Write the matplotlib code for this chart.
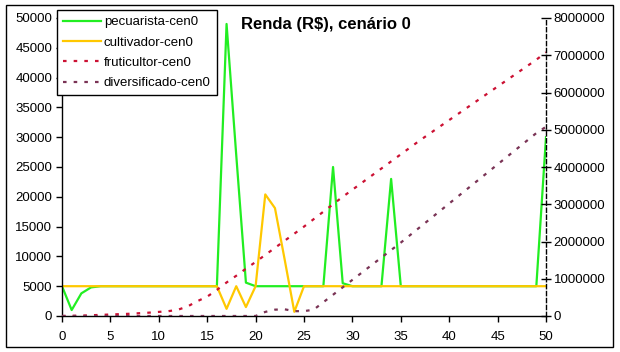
import matplotlib
matplotlib.use('Agg')
from matplotlib import pyplot as plt
from matplotlib.patches import Rectangle
import numpy as np

plt.rcParams['font.family'] = ['Liberation Sans', 'DejaVu Sans']

# anos 0..50
anos = list(range(51))

# eixo esquerdo (R$)
pecuarista = [5000, 1000, 3800, 4800, 5000, 5000, 5000, 5000, 5000, 5000,
              5000, 5000, 5000, 5000, 5000, 5000, 5000, 49000, 27000, 5600,
              5000, 5000, 5000, 5000, 5000, 5000, 5000, 5000, 25000, 5500,
              5000, 5000, 5000, 5000, 23000, 5000, 5000, 5000, 5000, 5000,
              5000, 5000, 5000, 5000, 5000, 5000, 5000, 5000, 5000, 5000,
              30000]
cultivador = [5000, 5000, 5000, 5000, 5000, 5000, 5000, 5000, 5000, 5000,
              5000, 5000, 5000, 5000, 5000, 5000, 5000, 1200, 5000, 1500,
              5000, 20400, 18100, 9500, 700, 5000, 5000, 5000, 5000, 5000,
              5000, 5000, 5000, 5000, 5000, 5000, 5000, 5000, 5000, 5000,
              5000, 5000, 5000, 5000, 5000, 5000, 5000, 5000, 5000, 5000,
              5000]

# eixo direito (R$)
fruticultor = [0, 5000, 10000, 20000, 30000, 40000, 50000, 60000, 75000, 90000,
               110000, 130000, 170000, 260000, 400000, 520000, 700000, 900000, 1080000, 1270000,
               1450000, 1640000, 1830000, 2020000, 2210000, 2400000, 2600000, 2800000, 3000000, 3200000,
               3390000, 3580000, 3770000, 3960000, 4150000, 4340000, 4530000, 4720000, 4900000, 5080000,
               5260000, 5440000, 5620000, 5800000, 5980000, 6160000, 6340000, 6520000, 6700000, 6880000,
               7080000]
diversificado = [0, 0, 0, 0, 0, 0, 0, 0, 0, 0,
                 0, 0, 0, 0, 0, 0, 0, 0, 0, 0,
                 0, 110000, 170000, 180000, 130000, 130000, 170000, 370000, 570000, 770000,
                 970000, 1170000, 1370000, 1570000, 1770000, 1970000, 2180000, 2390000, 2600000, 2810000,
                 3020000, 3230000, 3440000, 3650000, 3860000, 4070000, 4280000, 4490000, 4700000, 4910000,
                 5080000]

x_ticks = [0, 5, 10, 15, 20, 25, 30, 35, 40, 45, 50]
y1_ticks = [0, 5000, 10000, 15000, 20000, 25000, 30000, 35000, 40000, 45000, 50000]
y2_ticks = [0, 1000000, 2000000, 3000000, 4000000, 5000000, 6000000, 7000000, 8000000]

W, H = 620, 352
fig = plt.figure(figsize=(W / 100, H / 100), dpi=100)
ax = fig.add_axes([62 / W, 1 - 316 / H, (546 - 62) / W, (316 - 18) / H])
ax2 = ax.twinx()

fs = 9.5
l1, = ax.plot(anos, pecuarista, color='#22ee22', lw=1.6, label='pecuarista-cen0')
l2, = ax.plot(anos, cultivador, color='#ffc800', lw=1.6, label='cultivador-cen0')
l3, = ax2.plot(anos, fruticultor, color='#cc1133', lw=1.6, dashes=(1.6, 3.2),
               label='fruticultor-cen0')
l4, = ax2.plot(anos, diversificado, color='#7a3355', lw=1.6, dashes=(1.6, 3.2),
               label='diversificado-cen0')

ax.set_xlim(0, 50)
ax.set_ylim(0, 50000)
ax2.set_ylim(0, 8000000)

ax.set_xticks(x_ticks)
ax.set_xticklabels([str(v) for v in x_ticks])
ax.set_yticks(y1_ticks)
ax.set_yticklabels([str(v) for v in y1_ticks])
ax2.set_yticks(y2_ticks)
ax2.set_yticklabels([str(v) for v in y2_ticks])

for s in ['top', 'right']:
    ax.spines[s].set_visible(False)
for s in ['top', 'left', 'bottom']:
    ax2.spines[s].set_visible(False)
ax2.spines['right'].set_linestyle((0, (3, 2)))
ax2.spines['right'].set_linewidth(1)
ax.spines['left'].set_linewidth(1)
ax.spines['bottom'].set_linewidth(1)

ax.tick_params(axis='y', direction='out', length=4, width=1, pad=3, labelsize=fs)
ax.tick_params(axis='x', direction='out', length=4, width=1, pad=7, labelsize=fs)
ax2.tick_params(axis='y', direction='inout', length=7, width=1, pad=2, labelsize=fs)

fig.text(326 / W, 1 - 24 / H, 'Renda (R$), cenário 0', ha='center', va='center',
         fontsize=12, fontweight='bold')

leg = fig.legend(handles=[l1, l2, l3, l4], loc='upper left',
                 bbox_to_anchor=(57 / W, 1 - 10 / H), fontsize=fs,
                 frameon=True, fancybox=False, framealpha=1, edgecolor='black',
                 handlelength=2.9, handletextpad=0.2, labelspacing=0.62,
                 borderpad=0.45, borderaxespad=0)
leg.get_frame().set_linewidth(1)

fig.patches.append(Rectangle((6 / W, 1 - 347 / H), (613 - 6) / W, (347 - 5) / H,
                             transform=fig.transFigure, fill=False,
                             edgecolor='black', lw=1))

fig.savefig('out.png', dpi=100)
